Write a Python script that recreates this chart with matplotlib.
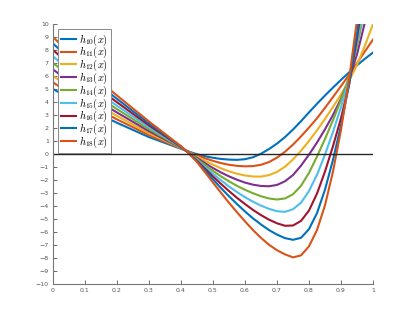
import numpy as np
import matplotlib
matplotlib.use("Agg")
import matplotlib.pyplot as plt

plt.rcParams['mathtext.fontset'] = 'cm'

# sample positions
xs = [0.0, 0.05, 0.1, 0.15, 0.2, 0.25, 0.3, 0.35,
      0.4, 0.425, 0.45, 0.475, 0.5, 0.525, 0.55, 0.575, 0.6, 0.625, 0.65, 0.675,
      0.7, 0.725, 0.75, 0.775, 0.8, 0.825, 0.85, 0.875, 0.9, 0.925, 0.95, 0.975, 1.0]

h10 = [5.0, 4.3, 3.65, 3.0, 2.4, 1.85, 1.3, 0.85,
       0.4, 0.18, -0.02, -0.17, -0.29, -0.38, -0.43, -0.45, -0.40, -0.25, 0.02, 0.38,
       0.8, 1.3, 1.88, 2.52, 3.2, 3.86, 4.5, 5.11, 5.7, 6.27, 6.82, 7.33, 7.8]
h11 = [5.5, 4.74, 4.03, 3.31, 2.66, 2.06, 1.45, 0.94,
       0.43, 0.17, -0.1, -0.33, -0.53, -0.7, -0.83, -0.91, -0.95, -0.93, -0.83, -0.62,
       -0.28, 0.17, 0.72, 1.35, 2.03, 2.75, 3.55, 4.38, 5.22, 6.08, 6.98, 7.9, 8.8]
h12 = [6.0, 5.18, 4.41, 3.63, 2.93, 2.26, 1.6, 1.03,
       0.45, 0.14, -0.2, -0.52, -0.82, -1.1, -1.33, -1.52, -1.65, -1.73, -1.74, -1.62,
       -1.38, -0.98, -0.42, 0.25, 1.0, 1.82, 2.7, 3.62, 4.58, 5.6, 6.85, 8.35, 10.0]
h13 = [6.5, 5.61, 4.79, 3.94, 3.19, 2.47, 1.75, 1.11,
       0.48, 0.12, -0.3, -0.7, -1.08, -1.42, -1.72, -1.98, -2.2, -2.36, -2.46, -2.48,
       -2.38, -2.1, -1.62, -0.9, -0.05, 0.88, 1.9, 3.0, 4.25, 5.75, 7.65, 10.15, 13.3]
h14 = [7.0, 6.05, 5.18, 4.25, 3.45, 2.68, 1.9, 1.2,
       0.5, 0.1, -0.38, -0.85, -1.3, -1.72, -2.1, -2.45, -2.75, -3.02, -3.25, -3.42,
       -3.5, -3.42, -3.1, -2.45, -1.45, -0.2, 1.15, 2.6, 4.15, 5.9, 8.3, 11.2, 14.5]
h15 = [7.5, 6.49, 5.56, 4.56, 3.71, 2.88, 2.05, 1.29,
       0.53, 0.08, -0.45, -1.0, -1.52, -2.02, -2.5, -2.93, -3.32, -3.67, -3.97, -4.22,
       -4.4, -4.45, -4.25, -3.75, -2.85, -1.6, -0.05, 1.7, 3.6, 5.7, 8.6, 11.8, 15.5]
h16 = [8.0, 6.93, 5.94, 4.88, 3.98, 3.09, 2.2, 1.38,
       0.55, 0.06, -0.52, -1.13, -1.73, -2.3, -2.85, -3.37, -3.85, -4.3, -4.7, -5.05,
       -5.33, -5.52, -5.5, -5.15, -4.35, -3.05, -1.35, 0.6, 2.75, 5.3, 8.9, 13.0, 17.5]
h17 = [8.5, 7.36, 6.32, 5.19, 4.24, 3.29, 2.35, 1.46,
       0.58, 0.05, -0.57, -1.25, -1.95, -2.62, -3.25, -3.85, -4.42, -4.95, -5.42, -5.85,
       -6.2, -6.47, -6.6, -6.45, -5.78, -4.55, -2.75, -0.45, 2.2, 5.3, 9.3, 14.0, 19.5]
h18 = [9.0, 7.8, 6.7, 5.5, 4.5, 3.5, 2.5, 1.55,
       0.6, 0.05, -0.62, -1.4, -2.2, -2.98, -3.75, -4.48, -5.18, -5.85, -6.45, -6.98,
       -7.4, -7.72, -7.95, -7.8, -7.1, -5.85, -3.95, -1.35, 1.85, 5.7, 10.3, 15.8, 22.0]

series = [h10, h11, h12, h13, h14, h15, h16, h17, h18]
labels = ['$h_{%d}(x)$' % n for n in range(10, 19)]
colors = ['#0072BD', '#D95319', '#EDB120', '#7E2F8E', '#77AC30',
          '#4DBEEE', '#A2142F', '#0072BD', '#D95319']

fig = plt.figure(figsize=(4.12, 3.19), dpi=100)
ax = fig.add_axes([0.1286, 0.1097, 0.7767, 0.8151])

for ys, c, lab in zip(series, colors, labels):
    ax.plot(xs, ys, color=c, lw=1.5, label=lab)
ax.plot([0, 1], [0, 0], color='#262626', lw=1.0)

ax.set_xlim(0, 1)
ax.set_ylim(-10, 10)
ax.set_xticks(np.arange(0, 1.01, 0.1))
ax.set_xticklabels(['0', '0.1', '0.2', '0.3', '0.4', '0.5', '0.6', '0.7', '0.8', '0.9', '1'])
ax.set_yticks(np.arange(-10, 11, 1))
ax.tick_params(direction='in', length=3, width=0.6, labelsize=4.5,
               colors='#555555', pad=3)
for s in ['top', 'right']:
    ax.spines[s].set_visible(False)
for s in ['left', 'bottom']:
    ax.spines[s].set_color('#777777')
    ax.spines[s].set_linewidth(0.8)

leg = ax.legend(loc='upper left', fontsize=7.5, fancybox=False, framealpha=1,
                edgecolor='#888888', handlelength=1.4, handletextpad=0.3,
                borderpad=0.3, labelspacing=-0.24, borderaxespad=0.5)
leg.get_frame().set_linewidth(0.7)

fig.savefig('out.png', dpi=100)
